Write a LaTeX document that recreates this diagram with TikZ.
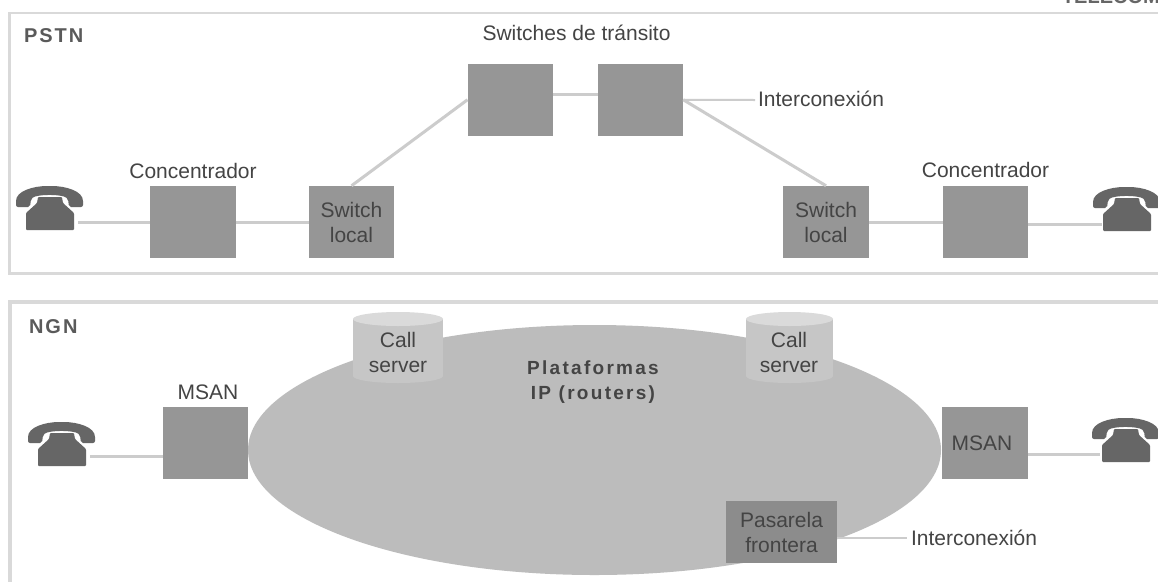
\documentclass[tikz,border=0pt]{standalone}
\usepackage{fontspec}
\setmainfont{Liberation Sans}
\usetikzlibrary{shapes.geometric}
\newcommand{\lab}{\fontsize{21}{25}\selectfont}
\newcommand{\hdg}{\fontsize{20}{25}\selectfont\bfseries\addfontfeature{LetterSpace=10}}
\newcommand{\plat}{\fontsize{19}{25}\selectfont\bfseries\addfontfeature{LetterSpace=12}}
\definecolor{framec}{HTML}{D9D9D9}
\definecolor{linec}{HTML}{CCCCCC}
\definecolor{boxc}{HTML}{969696}
\definecolor{gatec}{HTML}{8C8C8C}
\definecolor{cloudc}{HTML}{BCBCBC}
\definecolor{cylc}{HTML}{C6C6C6}
\definecolor{cyltop}{HTML}{DADADA}
\definecolor{phonec}{HTML}{666666}
\definecolor{txtc}{HTML}{444444}
\definecolor{hdgc}{HTML}{5A5A5A}
\tikzset{
  every node/.style={inner sep=0pt,outer sep=0pt,font=\lab,text=txtc,align=center},
  frameline/.style={draw=framec,line width=3pt},
  wire/.style={draw=linec,line width=3pt},
  thinwire/.style={draw=linec,line width=2pt},
  boxnode/.style={fill=boxc,minimum width=85.5pt,minimum height=72.5pt},
  textlab/.style={anchor=base},
  headlab/.style={anchor=base west,font=\hdg,text=hdgc},
  phone/.pic={
    \fill[phonec,rounded corners=2pt]
      (0,17) .. controls (0,5) and (17,0) .. (33.5,0)
      .. controls (50,0) and (67,5) .. (67,17)
      -- (67,21) -- (53,21) -- (52,13)
      .. controls (46,8) and (21,8) .. (15,13)
      -- (14,21) -- (0,21) -- cycle;
    \fill[phonec,rounded corners=1pt]
      (22,11) -- (46,11) -- (47,17) -- (58,27) -- (58,44) -- (10,44) -- (10,27) -- (21,17) -- cycle;
  }
}
\begin{document}
\begin{tikzpicture}[x=1pt,y=-1pt]
\useasboundingbox (0,0) rectangle (1158,582);
\clip (0,0) rectangle (1158,582);
\fill[white] (0,0) rectangle (1158,582);

% frames
\draw[frameline,line width=2.5pt] (1158,13) -- (9.5,13) -- (9.5,95);
\draw[frameline] (9.5,95) -- (9.5,273) -- (1158,273);
\draw[frameline,line width=4pt] (1158,302) -- (9.5,302) -- (9.5,582);

% clipped caption at the top edge
\node[anchor=base west,font=\fontsize{20}{25}\selectfont\bfseries,text=phonec] (brand) at (1062,3) {TELECOM};

% NGN cloud
\node[ellipse,fill=cloudc,minimum width=693pt,minimum height=250pt] (ip) at (594.5,450) {};

% PSTN boxes
\node[boxnode] (c1) at (192.75,222) {};
\node[boxnode] (s1) at (351.5,222) {Switch\\local};
\node[boxnode] (t1) at (510.25,99.75) {};
\node[boxnode] (t2) at (640.5,99.75) {};
\node[boxnode] (s2) at (826,222) {Switch\\local};
\node[boxnode] (c2) at (985.5,222) {};

% NGN boxes
\node[boxnode] (m1) at (205.25,443) {};
\node[boxnode] (m2) at (985,443) {MSAN\kern6pt};
\node[fill=gatec,minimum width=111pt,minimum height=62pt] (g) at (781.5,532) {Pasarela\\frontera};

% call servers
\fill[cylc] (353,319) rectangle (443,376);
\fill[cylc] (398,376) ellipse[x radius=45,y radius=7];
\fill[cyltop] (398,319) ellipse[x radius=45,y radius=7];
\fill[cylc] (746,319) rectangle (833,376);
\fill[cylc] (789.5,376) ellipse[x radius=43.5,y radius=7];
\fill[cyltop] (789.5,319) ellipse[x radius=43.5,y radius=7];

% phones
\pic at (16,186) {phone};
\pic at (1093,187) {phone};
\pic at (28,422) {phone};
\pic at (1092,418) {phone};
\coordinate (p1) at (78,222);
\coordinate (p2) at (1102,224);
\coordinate (p3) at (90,456);
\coordinate (p4) at (1100,454);

% free ends
\coordinate (i1) at (755,100);
\coordinate (i2) at (907,538);

% connectors
\draw[wire] (p1) -- (c1.west|-p1);
\draw[wire] (c1.east) -- (s1.west);
\draw[wire] (s1.north) -- (t1.west);
\draw[wire] ([yshift=5pt]t1.east) -- ([yshift=5pt]t2.west);
\draw[thinwire] (t2.east) -- (i1);
\draw[wire] (t2.east) -- (s2.north);
\draw[wire] (s2.east) -- (c2.west);
\draw[wire] (c2.east|-p2) -- (p2);
\draw[wire] (p3) -- (m1.west|-p3);
\draw[wire] (m2.east|-p4) -- (p4);
\draw[thinwire] (g.east|-i2) -- (i2);

% labels
\node[headlab] (h1) at (24,42) {PSTN};
\node[headlab] (h2) at (29,333) {NGN};
\node[textlab] (lt) at (576.5,40) {Switches de tránsito};
\node[textlab] (l1) at (193,178) {Concentrador};
\node[textlab] (l2) at (985.5,177) {Concentrador};
\node[anchor=base west] (l3) at (758,106) {Interconexión};
\node[anchor=base west] (l4) at (911,545) {Interconexión};
\node[textlab] (l5) at (208,399) {MSAN};
\node (l6) at (398,352) {Call\\server};
\node (l8) at (789,352) {Call\\server};
\node[font=\plat] (l10) at (593,382) {Plataformas\\IP (routers)};
\end{tikzpicture}
\end{document}
